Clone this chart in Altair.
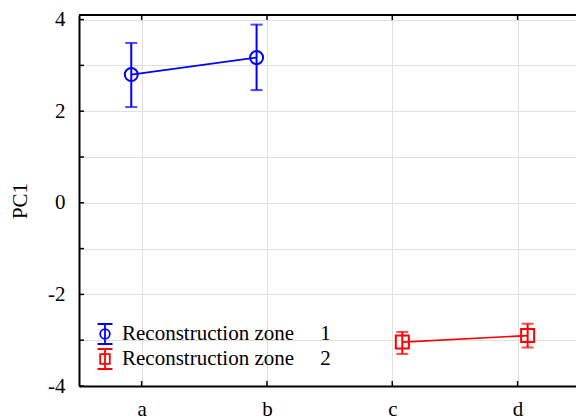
import altair as alt
import pandas as pd

# Group means of PC1 with their confidence limits, one row per group
groups = ["a", "b", "c", "d"]
zones = ["1", "1", "2", "2"]
means = [2.80, 3.17, -3.04, -2.90]
lower = [2.09, 2.46, -3.30, -3.16]
upper = [3.49, 3.89, -2.82, -2.64]

y_ticks = [-4, -3, -2, -1, 0, 1, 2, 3, 4]
x_ticks = [1, 2, 3, 4]

W, H = 497, 371
FONT = "Liberation Serif"
FS = 21
BLUE, RED = "#0000ff", "#ff0000"
SHIFT = {"1": -0.083, "2": 0.08}   # small horizontal dodge per zone

df = pd.DataFrame({"group": groups, "zone": zones, "mean": means,
                   "lo": lower, "hi": upper})
df["pos"] = [groups.index(g) + 1 + SHIFT[z] for g, z in zip(df["group"], df["zone"])]

xscale = alt.Scale(domain=[0.5, 4.466], nice=False, zero=False)
yscale = alt.Scale(domain=[-4, 4.1], nice=False, zero=False)

x_axis = alt.Axis(values=x_ticks, labelExpr="['a','b','c','d'][datum.value - 1]",
                  title=None, ticks=False, grid=True, gridColor="#e0e0e0",
                  domainColor="black", domainWidth=2, labelFont=FONT,
                  labelFontSize=FS, labelColor="black", labelPadding=12)
y_axis = alt.Axis(values=y_ticks,
                  labelExpr="datum.value % 2 == 0 ? toString(datum.value) : ''",
                  title="PC1", titleFont=FONT, titleFontSize=FS, titleFontWeight="normal",
                  titleColor="black", titleAngle=270, titleX=-59, titleY=H / 2,
                  titleAlign="center", titleBaseline="middle",
                  ticks=False, grid=True, gridColor="#e0e0e0",
                  domainColor="black", domainWidth=2, labelFont=FONT,
                  labelFontSize=FS, labelColor="black", labelPadding=14)


def X(field):
    return alt.X(field, type="quantitative", scale=xscale, axis=x_axis)


def Y(field):
    return alt.Y(field, type="quantitative", scale=yscale, axis=y_axis)


base = alt.Chart(df)
ticks_y = alt.Chart(pd.DataFrame({"t": y_ticks}))
ticks_x = alt.Chart(pd.DataFrame({"t": x_ticks}))

layers = []
for zone, color, shape in [("1", BLUE, "circle"), ("2", RED, "square")]:
    sub = base.transform_filter(alt.datum.zone == zone)
    layers += [
        sub.mark_line(color=color, strokeWidth=1.7).encode(x=X("pos"), y=Y("mean")),
        sub.mark_rule(color=color, strokeWidth=2).encode(x=X("pos"), y=Y("lo"), y2="hi"),
        sub.mark_tick(color=color, orient="horizontal", size=12, thickness=2)
           .encode(x=X("pos"), y=Y("lo")),
        sub.mark_tick(color=color, orient="horizontal", size=12, thickness=2)
           .encode(x=X("pos"), y=Y("hi")),
        sub.mark_point(color=color, shape=shape, size=169, filled=False,
                       strokeWidth=2, opacity=1).encode(x=X("pos"), y=Y("mean")),
    ]

# legend symbols: error bar with its marker
circle_bar = ("M0,-1L0,1M-0.75,-1L0.75,-1M-0.75,1L0.75,1"
              "M-0.48,0A0.48,0.48,0,1,0,0.48,0A0.48,0.48,0,1,0,-0.48,0")
square_bar = ("M0,-1L0,1M-0.75,-1L0.75,-1M-0.75,1L0.75,1"
              "M-0.48,-0.48L0.48,-0.48L0.48,0.48L-0.48,0.48Z")
legend = alt.Legend(title=None, orient="none", legendX=15, legendY=308, padding=0,
                    rowPadding=-3, symbolSize=400, symbolStrokeWidth=1.8,
                    labelFont=FONT, labelFontSize=FS, labelColor="black",
                    labelOffset=6, labelLimit=400,
                    labelExpr="'Reconstruction zone' + '\u00a0\u00a0\u00a0\u00a0\u00a0' + datum.label")
layers.append(
    base.mark_point(opacity=0, filled=False).encode(
        x=X("pos"), y=Y("mean"),
        color=alt.Color("zone:N", scale=alt.Scale(domain=["1", "2"], range=[BLUE, RED]),
                        legend=legend),
        shape=alt.Shape("zone:N", scale=alt.Scale(domain=["1", "2"],
                                                  range=[circle_bar, square_bar]),
                        legend=legend),
    )
)

# frame: top border and inward tick marks
layers += [
    alt.Chart(pd.DataFrame({"k": [0]})).mark_rule(color="black", strokeWidth=2)
       .encode(x=alt.value(0), x2=alt.value(W), y=alt.value(0)),
    ticks_y.mark_rule(color="black", strokeWidth=1.5)
       .encode(y=Y("t"), x=alt.value(0), x2=alt.value(5)),
    ticks_x.mark_rule(color="black", strokeWidth=1.5)
       .encode(x=X("t"), y=alt.value(H - 5), y2=alt.value(H)),
    ticks_x.mark_rule(color="black", strokeWidth=1.5)
       .encode(x=X("t"), y=alt.value(0), y2=alt.value(5)),
]

chart = alt.layer(*layers).properties(
    width=W, height=H,
    autosize=alt.AutoSizeParams(type="none"),
    padding={"left": 79, "top": 15, "right": 0, "bottom": 33},
    background="white",
).configure_view(stroke=None)

chart.save("out.html", embed_options={"renderer": "svg", "actions": False})
